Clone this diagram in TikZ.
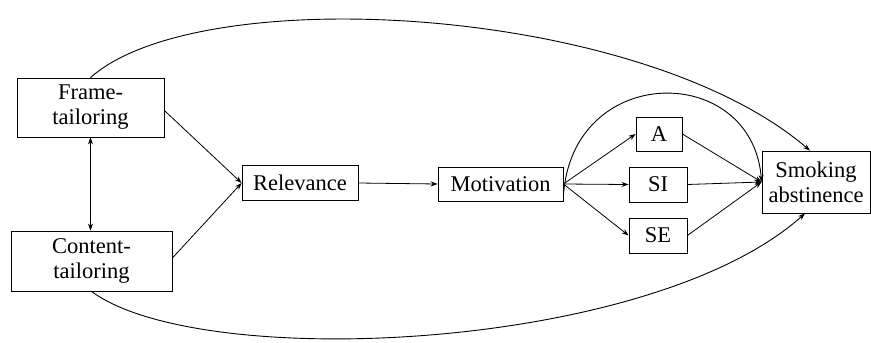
\documentclass[tikz,border=0pt]{standalone}
\usepackage{fontspec}
\setmainfont{Liberation Serif}
\usetikzlibrary{arrows.meta}
\begin{document}
\begin{tikzpicture}[x=1pt,y=-1pt,
  box/.style={draw,line width=0.8pt,rectangle,inner sep=0pt,align=center,font=\fontsize{22.5pt}{25pt}\selectfont\rmfamily},
  conn/.style={line width=0.8pt,-{Stealth[length=7pt,width=5pt]}},
  curv/.style={line width=0.9pt,-{Stealth[length=7pt,width=5pt]}}]
\useasboundingbox (0,0) rectangle (871,343);
\node[box,minimum width=147pt,minimum height=59pt] (frame) at (90.5,107.5) {Frame-\\tailoring};
\node[box,minimum width=161pt,minimum height=60pt] (content) at (91.5,261) {Content-\\tailoring};
\node[box,minimum width=116pt,minimum height=35pt] (rel) at (300,183) {Relevance};
\node[box,minimum width=125pt,minimum height=34pt] (mot) at (500.5,184) {Motivation};
\node[box,minimum width=46pt,minimum height=34pt] (a) at (659,134) {A};
\node[box,minimum width=58pt,minimum height=35pt] (si) at (658,184.5) {SI};
\node[box,minimum width=58pt,minimum height=35pt] (se) at (658,235.5) {SE};
\node[box,minimum width=108pt,minimum height=62pt] (smk) at (816,182) {Smoking\\abstinence};
\coordinate (frR) at ([yshift=-3pt]frame.east);
\coordinate (coR) at ([yshift=3pt]content.east);
\draw[conn] (frR) -- (rel.west);
\draw[conn] (coR) -- (rel.west);
\draw[line width=0.8pt,{Stealth[length=7pt,width=5pt]}-{Stealth[length=7pt,width=5pt]}] (frame.south) -- (frame.south |- content.north);
\draw[conn] (rel.east) -- (mot.west);
\draw[conn] (mot.east) -- (a.west);
\draw[conn] (mot.east) -- (si.west);
\draw[conn] (mot.east) -- (se.west);
\draw[conn] (a.east) -- (smk.west);
\draw[conn] (si.east) -- (smk.west);
\draw[conn] (se.east) -- (smk.west);
\coordinate (motNE) at ([yshift=-12pt]mot.east);
\draw[curv] (motNE) .. controls (572,62) and (752,62) .. (smk.west);
\coordinate (frTop) at (frame.north);
\coordinate (smTop) at ([xshift=-6pt]smk.north);
\draw[curv] (frTop) .. controls (200,-20) and (640,5) .. (smTop);
\coordinate (coBot) at (content.south);
\coordinate (smBot) at ([xshift=-11pt]smk.south);
\draw[curv] (coBot) .. controls (200,372) and (650,352) .. (smBot);
\end{tikzpicture}
\end{document}
